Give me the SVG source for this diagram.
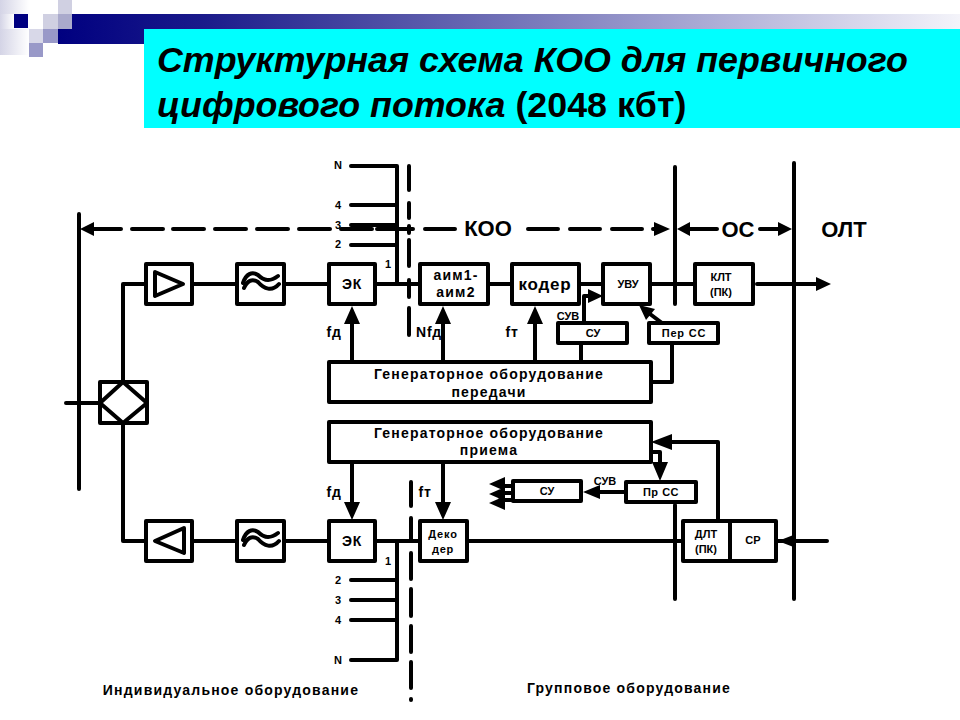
<svg xmlns="http://www.w3.org/2000/svg" width="960" height="720" viewBox="0 0 960 720">
<style>
text{font-family:"Liberation Sans",Arial,sans-serif;font-weight:bold;fill:#000;text-anchor:middle}
.box{fill:#fff;stroke:#000;stroke-width:4;stroke-linejoin:round}
.ln{fill:none;stroke:#000;stroke-width:4;stroke-linecap:round;stroke-linejoin:round}
.th{fill:none;stroke:#000;stroke-width:4;stroke-linecap:round;stroke-linejoin:round}
.hd{fill:#000;stroke:none}
.s11{font-size:11px}.s12{font-size:12px}.s13{font-size:14px;letter-spacing:1.2px}
.s14{font-size:14px;letter-spacing:.8px}.s22{font-size:22px}
.title{font-size:35.8px;font-style:italic;text-anchor:start}
</style>
<defs>
<linearGradient id="bar" x1="0" x2="1" y1="0" y2="0"><stop offset="0" stop-color="#000080"/><stop offset=".16" stop-color="#1a1a8a"/><stop offset="1" stop-color="#f4f4fa"/></linearGradient>
<linearGradient id="fade" x1="0" x2="1" y1="0" y2="0"><stop offset="0" stop-color="#d4d4e6"/><stop offset="1" stop-color="#ffffff"/></linearGradient>
<g id="wave"><path class="th" d="M243 283C246 274 252 271 258 275C264 281 270 282 278 276"/><path class="th" d="M244 288C247 281 252 278 258 282C264 289 272 292 279 284"/></g>
</defs>
<g id="header">
<rect x="58" y="14" width="902" height="30" fill="url(#bar)"/>
<rect x="0" y="0" width="29" height="14" fill="url(#fade)"/><rect x="0" y="14" width="14" height="15" fill="url(#fade)"/>
<rect x="0" y="29" width="29" height="26" fill="url(#fade)"/>
<rect x="14" y="14" width="14" height="14" fill="#000080"/>
<rect x="58" y="0" width="14" height="14" fill="#d0d0e2"/><rect x="43" y="14" width="15" height="15" fill="#d0d0e2"/><rect x="58" y="14" width="14" height="15" fill="#aaaacc"/>
<rect x="29" y="29" width="14" height="14" fill="#d8d8e8"/><rect x="43" y="29" width="15" height="14" fill="#9999c8"/><rect x="29" y="43" width="14" height="14" fill="#9999c8"/>
<rect x="144" y="29" width="816" height="99" fill="#00ffff"/>
<text class="title" x="157" y="72">Структурная схема КОО для первичного</text>
<text class="title" x="157" y="117">цифрового потока <tspan font-style="normal">(2048 кбт)</tspan></text>
</g>
<g id="connectors">
<path class="ln" d="M79 214V489M675 167V304M675 505V599M794 163V599"/>
<path class="ln" d="M409 166V190M409 203V218M409 226V233M409 240V266M409 280V297M409 308V335M411 482V506M411 518V541M411 553V579M411 589V616M411 626V652M411 662V688M411 699V700"/>
<path class="ln" d="M121 229H94M132 229H163M173 229H204M215 229H246M257 229H288M299 229H330M341 229H372M377 229H413M425 229H455M528 229H558M570 229H600M612 229H642M653 229H660M690 229H717M760 229H780"/>
<path class="hd" d="M80 229L94 222V236ZM670 229L654 222V236ZM677 229L690 222V236ZM792 229L778 222V236Z"/>
<path class="ln" d="M351 166H397V284M351 205H397M351 225H397M351 245H397"/>
<path class="ln" d="M351 580H397M351 600H397M351 620H397M351 660H397V541"/>
<path class="ln" d="M123 382V284H145M192 284H237M284 284H329M375 284H420M488 284H512M579 284H603M650 284H695M757 284H818"/>
<path class="hd" d="M831 284L816 277V291Z"/>
<path class="ln" d="M123 423V541H145M192 541H237M284 541H329M375 541H420M467 541H683M776 541H827M66 403H100"/>
<path class="hd" d="M778 541L796 534V548Z"/>
<path class="ln" d="M352 362V320M443 362V320M535 362V320"/>
<path class="hd" d="M352 306L344 324H360ZM443 306L435 324H451ZM535 306L527 324H543Z"/>
<path class="ln" d="M352 462V505M443 462V505"/>
<path class="hd" d="M352 520L344 502H360ZM443 520L435 502H451Z"/>
<path class="ln" d="M581 343V362M584 323V296H592"/>
<path class="hd" d="M603 296L588 289V303Z"/>
<path class="ln" d="M662 323L646 311M672 343V382H651"/>
<path class="hd" d="M639 305L655 309L646 320Z"/>
<path class="ln" d="M651 452H660V466M718 521V442H668"/>
<path class="hd" d="M660 481L652 462H668ZM651 442L672 434V450Z"/>
<path class="ln" d="M626 492H598"/>
<path class="hd" d="M583 492L600 485V499Z"/>
<path class="ln" d="M513 486H500M513 493H500M513 500H500"/>
<path class="hd" d="M489 484L505 477V491ZM489 494L505 487V501ZM489 503L505 496V510Z"/>
</g>
<g id="amp-tx"><rect class="box" x="146" y="264" width="46" height="40"/><path class="ln" d="M155 272L183 284L155 296Z"/></g>
<g id="filter-tx"><rect class="box" x="237" y="264" width="47" height="40"/><use href="#wave"/></g>
<g id="ek-tx"><rect class="box" x="329" y="264" width="46" height="40"/><text class="s14" x="352" y="289">ЭК</text></g>
<g id="aim"><rect class="box" x="420" y="264" width="68" height="40"/><text class="s13" x="456" y="280">аим1-</text><text class="s13" x="456" y="297">аим2</text></g>
<g id="coder"><rect class="box" x="512" y="264" width="67" height="40"/><text x="545" y="290" font-size="17" letter-spacing=".8">кодер</text></g>
<g id="uvu"><rect class="box" x="603" y="264" width="47" height="40"/><text class="s11" x="628" y="288">УВУ</text></g>
<g id="klt"><rect class="box" x="695" y="264" width="58" height="40"/><text class="s11" x="721" y="281">КЛТ</text><text class="s11" x="721" y="296">(ПК)</text></g>
<g id="su-tx"><rect class="box" x="558" y="323" width="69" height="20"/><text class="s11" x="593" y="337">СУ</text></g>
<g id="per-ss"><rect class="box" x="649" y="323" width="69" height="20"/><text class="s11" x="684" y="337" letter-spacing=".8">Пер СС</text></g>
<g id="gen-tx"><rect class="box" x="329" y="362" width="322" height="40"/><text class="s13" x="489" y="379">Генераторное оборудование</text><text class="s13" x="489" y="397">передачи</text></g>
<g id="gen-rx"><rect class="box" x="329" y="422" width="322" height="40"/><text class="s13" x="489" y="438">Генераторное оборудование</text><text class="s13" x="489" y="455">приема</text></g>
<g id="hybrid"><rect class="box" x="100" y="382" width="47" height="41"/><path class="ln" d="M123 382L147 403L123 423L100 403Z"/></g>
<g id="amp-rx"><rect class="box" x="146" y="521" width="46" height="40"/><path class="ln" d="M184 528L155 541L184 553Z"/></g>
<g id="filter-rx"><rect class="box" x="237" y="521" width="47" height="40"/><use href="#wave" y="257"/></g>
<g id="ek-rx"><rect class="box" x="329" y="521" width="46" height="40"/><text class="s14" x="352" y="546">ЭК</text></g>
<g id="decoder"><rect class="box" x="420" y="521" width="47" height="40"/><text class="s11" x="443" y="538" letter-spacing=".8">Деко</text><text class="s11" x="443" y="553" letter-spacing=".8">дер</text></g>
<g id="su-rx"><rect class="box" x="513" y="481" width="68" height="20"/><text class="s11" x="547" y="495">СУ</text></g>
<g id="pr-ss"><rect class="box" x="626" y="482" width="70" height="20"/><text class="s11" x="661" y="496" letter-spacing=".5">Пр СС</text></g>
<g id="dlt"><rect class="box" x="683" y="521" width="47" height="40"/><text class="s11" x="706" y="538">ДЛТ</text><text class="s11" x="706" y="553">(ПК)</text></g>
<g id="sr"><rect class="box" x="730" y="521" width="46" height="40"/><text class="s11" x="753" y="544">СР</text></g>
<g id="labels">
<text class="s11" x="338" y="169">N</text><text class="s11" x="338" y="209">4</text><text class="s11" x="338" y="229">3</text><text class="s11" x="338" y="248">2</text><text class="s11" x="388" y="268">1</text>
<text class="s11" x="388" y="565">1</text><text class="s11" x="338" y="584">2</text><text class="s11" x="338" y="604">3</text><text class="s11" x="338" y="624">4</text><text class="s11" x="338" y="664">N</text>
<text class="s22" x="488" y="236">КОО</text><text class="s22" x="738" y="237">ОС</text><text class="s22" x="844" y="237">ОЛТ</text>
<text class="s14" x="334" y="337">fд</text><text class="s14" x="429" y="337">Nfд</text><text class="s14" x="512" y="337">fт</text>
<text class="s11" x="568" y="320">СУВ</text>
<text class="s14" x="334" y="497">fд</text><text class="s14" x="425" y="497">fт</text><text class="s11" x="605" y="485">СУВ</text>
<text class="s13" x="231" y="695">Индивидуальное оборудование</text><text class="s13" x="629" y="693">Групповое оборудование</text>
</g>
</svg>
